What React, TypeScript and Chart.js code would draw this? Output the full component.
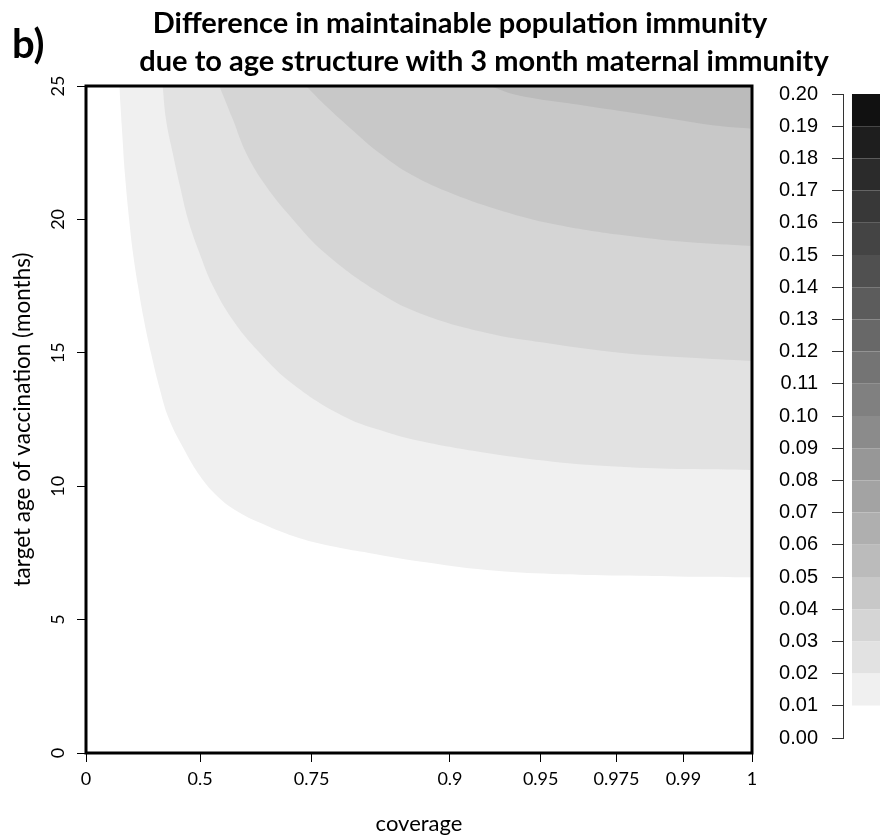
import React, { useEffect, useRef } from "react";
import { Chart, registerables } from "chart.js";

Chart.register(...registerables);

// Coverage axis: tick values and their relative positions along the axis
const COVERAGE_TICKS = [0, 0.5, 0.75, 0.9, 0.95, 0.975, 0.99, 1];
const COVERAGE_LABELS = ["0", "0.5", "0.75", "0.9", "0.95", "0.975", "0.99", "1"];
const COVERAGE_AXIS_POS = [0, 0.1712, 0.3387, 0.5465, 0.6827, 0.7965, 0.8971, 1];

const AGE_TICKS = [0, 5, 10, 15, 20, 25];

// Key levels (difference in maintainable immunity)
const KEY_LEVELS = [0, 0.01, 0.02, 0.03, 0.04, 0.05, 0.06, 0.07, 0.08, 0.09, 0.1,
  0.11, 0.12, 0.13, 0.14, 0.15, 0.16, 0.17, 0.18, 0.19, 0.2];
const KEY_COLORS = ["#ffffff", "#f0f0f0", "#e2e2e2", "#d5d5d5", "#c8c8c8", "#bbbbbb",
  "#afafaf", "#a3a3a3", "#979797", "#8b8b8b", "#808080", "#747474", "#686868",
  "#5c5c5c", "#505050", "#444444", "#383838", "#2b2b2b", "#1e1e1e", "#111111"];

// Contour lines: [coverage, target age (months)]
const CONTOUR_001: [number, number][] = [
  [0.146, 25], [0.158, 23.35], [0.171, 21.66], [0.189, 20.01], [0.206, 18.74],
  [0.228, 17.5], [0.254, 16.23], [0.285, 14.99], [0.32, 13.76], [0.364, 12.52],
  [0.434, 11.32], [0.5, 10.38], [0.5336, 9.71], [0.5784, 9.11], [0.6411, 8.58],
  [0.7218, 8.06], [0.7764, 7.72], [0.8122, 7.5], [0.8675, 7.18], [0.9204, 6.86],
  [0.9541, 6.71], [0.9758, 6.65], [0.9905, 6.61], [1.0, 6.59],
];
const CONTOUR_002: [number, number][] = [
  [0.336, 25], [0.351, 23.73], [0.38, 22.5], [0.412, 21.25], [0.447, 20.01],
  [0.496, 18.78], [0.529, 17.5], [0.5717, 16.27], [0.63, 15.07], [0.7106, 13.79],
  [0.7862, 12.59], [0.8306, 12.03], [0.8675, 11.69], [0.9204, 11.24],
  [0.9541, 10.92], [0.9758, 10.73], [0.9905, 10.64], [1.0, 10.61],
];
const CONTOUR_003: [number, number][] = [
  [0.5432, 25], [0.5733, 23.76], [0.603, 22.5], [0.6478, 21.25], [0.7076, 20.01],
  [0.7645, 18.74], [0.8187, 17.35], [0.8664, 16.49], [0.9204, 15.74],
  [0.9541, 15.33], [0.9758, 15.0], [0.9905, 14.82], [1.0, 14.69],
];
const CONTOUR_004: [number, number][] = [
  [0.7375, 25], [0.7656, 24.25], [0.8014, 23.13], [0.8231, 22.5], [0.8588, 21.66],
  [0.9017, 20.95], [0.9292, 20.31], [0.9541, 19.83], [0.9758, 19.42],
  [0.9905, 19.15], [1.0, 19.0],
];
const CONTOUR_005: [number, number][] = [
  [0.922, 25], [0.9386, 24.63], [0.9653, 24.25], [0.9832, 23.88],
  [0.9953, 23.5], [1.0, 23.4],
];

const CONTOURS = [CONTOUR_001, CONTOUR_002, CONTOUR_003, CONTOUR_004, CONTOUR_005];

// piecewise-linear placement of a coverage value on the axis
function covToPos(c: number): number {
  for (let i = 0; i < COVERAGE_TICKS.length - 1; i++) {
    const a = COVERAGE_TICKS[i];
    const b = COVERAGE_TICKS[i + 1];
    if (c <= b) {
      const t = (c - a) / (b - a);
      return COVERAGE_AXIS_POS[i] + t * (COVERAGE_AXIS_POS[i + 1] - COVERAGE_AXIS_POS[i]);
    }
  }
  return 1;
}

const framePlugin = {
  id: "frame",
  afterDatasetsDraw(chart: any) {
    const { ctx, chartArea } = chart;
    ctx.save();
    ctx.strokeStyle = "#000";
    ctx.lineWidth = 3;
    ctx.strokeRect(chartArea.left, chartArea.top,
      chartArea.right - chartArea.left, chartArea.bottom - chartArea.top);
    ctx.restore();
  },
};

// y tick labels are drawn rotated, reading upward
const ageLabelPlugin = {
  id: "ageLabels",
  afterDraw(chart: any) {
    const { ctx } = chart;
    const y = chart.scales.y;
    ctx.save();
    ctx.fillStyle = "#000";
    ctx.font = "18px Lato";
    ctx.textAlign = "center";
    ctx.textBaseline = "middle";
    for (const v of AGE_TICKS) {
      const py = y.getPixelForValue(v);
      ctx.save();
      ctx.translate(58, py);
      ctx.rotate(-Math.PI / 2);
      ctx.fillText(String(v), 0, 0);
      ctx.restore();
    }
    ctx.restore();
  },
};

export default function App() {
  const mainRef = useRef<HTMLCanvasElement | null>(null);
  const keyRef = useRef<HTMLCanvasElement | null>(null);

  useEffect(() => {
    if (!mainRef.current || !keyRef.current) return;

    const datasets = CONTOURS.map((pts, i) => ({
      label: `level ${KEY_LEVELS[i + 1].toFixed(2)}`,
      data: pts.map(([c, a]) => ({ x: covToPos(c), y: a })),
      borderWidth: 0,
      borderColor: "rgba(0,0,0,0)",
      backgroundColor: KEY_COLORS[i + 1],
      pointRadius: 0,
      fill: "end",
      tension: 0.4,
      order: CONTOURS.length - i,
    }));

    const main = new Chart(mainRef.current, {
      type: "line",
      data: { datasets },
      plugins: [framePlugin, ageLabelPlugin],
      options: {
        animation: false,
        responsive: false,
        maintainAspectRatio: false,
        layout: { padding: { top: 86, right: 128, left: 0, bottom: 0 } },
        plugins: { legend: { display: false }, tooltip: { enabled: false } },
        scales: {
          x: {
            type: "linear",
            min: 0,
            max: 1,
            afterFit(scale: any) { scale.height = 84; },
            afterBuildTicks(scale: any) {
              scale.ticks = COVERAGE_TICKS.map((c) => ({ value: covToPos(c) }));
            },
            ticks: {
              autoSkip: false,
              maxRotation: 0,
              minRotation: 0,
              padding: 6,
              color: "#000",
              font: { family: "Lato", size: 18 },
              callback: (_v: any, i: number) => COVERAGE_LABELS[i],
            },
            grid: { drawOnChartArea: false, drawTicks: true, tickLength: 9, color: "#000" },
            border: { display: false },
            title: {
              display: true,
              text: "coverage",
              color: "#000",
              font: { family: "Lato", size: 22 },
              padding: { top: 0, bottom: 0 },
            },
          },
          y: {
            type: "linear",
            min: 0,
            max: 25,
            afterFit(scale: any) { scale.width = 86; },
            ticks: { stepSize: 5, display: false },
            grid: { drawOnChartArea: false, drawTicks: true, tickLength: 9, color: "#000" },
            border: { display: false },
            title: {
              display: true,
              text: "target age of vaccination (months)",
              color: "#000",
              font: { family: "Lato", size: 22.5 },
              padding: { top: 9, bottom: 0 },
            },
          },
        },
      },
    });

    // colour key: one stacked bar, one segment per level band
    const keyDatasets = KEY_COLORS.map((col, i) => ({
      label: `${KEY_LEVELS[i].toFixed(2)}-${KEY_LEVELS[i + 1].toFixed(2)}`,
      data: [KEY_LEVELS[i + 1] - KEY_LEVELS[i]],
      backgroundColor: col,
      borderWidth: 0,
      categoryPercentage: 1,
      barPercentage: 0.71,
    }));

    const key = new Chart(keyRef.current, {
      type: "bar",
      data: { labels: [""], datasets: keyDatasets },
      options: {
        animation: false,
        responsive: false,
        maintainAspectRatio: false,
        layout: { padding: { top: 94, bottom: 99, left: 0, right: 15 } },
        plugins: { legend: { display: false }, tooltip: { enabled: false } },
        scales: {
          x: { stacked: true, display: false },
          y: {
            stacked: true,
            min: 0,
            max: 0.2,
            afterFit(scale: any) { scale.width = 143; },
            afterBuildTicks(scale: any) {
              scale.ticks = KEY_LEVELS.map((v) => ({ value: v }));
            },
            ticks: {
              autoSkip: false,
              padding: 14,
              color: "#000",
              font: { family: "Liberation Sans", size: 20 },
              callback: (v: any) => Number(v).toFixed(2),
            },
            grid: { drawOnChartArea: false, drawTicks: true, tickLength: 11, color: "#333" },
            border: { display: true, color: "#333", width: 1 },
          },
        },
      },
    });

    return () => {
      main.destroy();
      key.destroy();
    };
  }, []);

  const titleLine = {
    position: "absolute" as const,
    width: 900,
    textAlign: "center" as const,
    fontFamily: "Lato",
    fontWeight: 700,
    fontSize: 29,
    lineHeight: "38px",
    color: "#000",
    whiteSpace: "nowrap" as const,
  };

  return (
    <div style={{ position: "absolute", left: 0, top: 0, width: 880, height: 837, overflow: "hidden", background: "#fff" }}>
      <canvas ref={mainRef} width={880} height={837} style={{ position: "absolute", left: 0, top: 0 }} />
      <canvas ref={keyRef} width={220} height={837} style={{ position: "absolute", left: 700, top: 0 }} />
      <div style={{ position: "absolute", left: 12, top: 20, fontFamily: "Lato", fontWeight: 700, fontSize: 40, lineHeight: "46px", color: "#000" }}>b)</div>
      <div style={{ ...titleLine, left: 460 - 450, top: 3 }}>Difference in maintainable population immunity</div>
      <div style={{ ...titleLine, left: 484 - 450, top: 41 }}>due to age structure with 3 month maternal immunity</div>
    </div>
  );
}
